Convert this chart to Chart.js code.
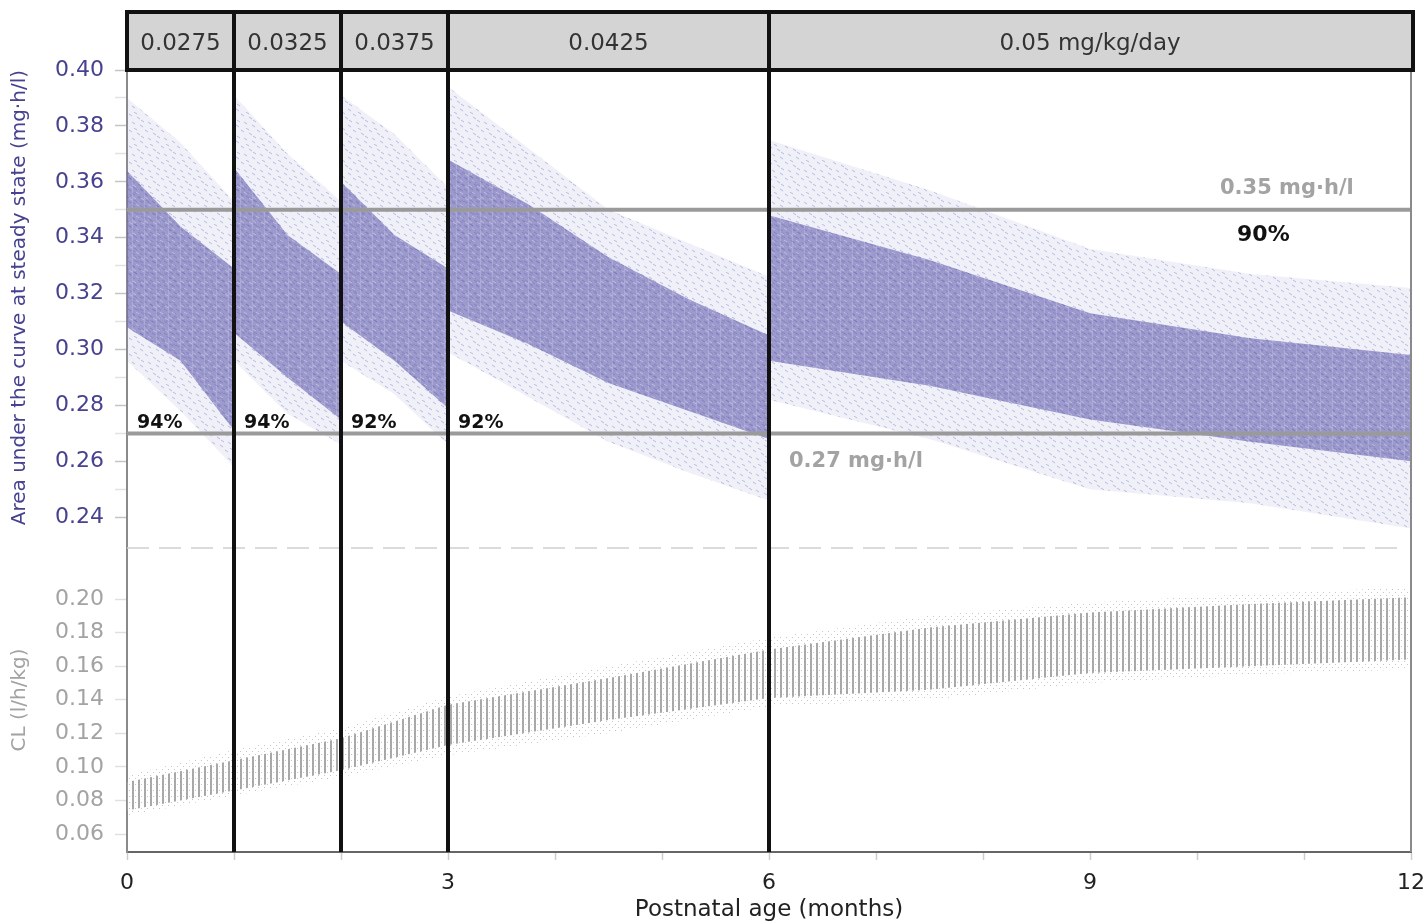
<!DOCTYPE html>
<html>
<head>
<meta charset="utf-8">
<script src="https://cdn.jsdelivr.net/npm/chart.js@4.4.1/dist/chart.umd.min.js"></script>
<style>
  html, body { margin: 0; padding: 0; background: #fff; }
  #wrap { width: 1427px; height: 924px; }
</style>
</head>
<body>
<div id="wrap"><canvas id="chart" width="1427" height="924"></canvas></div>
<script>
// Postnatal age (months) where the simulated AUC spread was read.
// Ages repeat at the dose steps so the band jumps at 1, 2, 3 and 6 months.
const aucAge       = [0,     0.5,   1,     1,     1.5,   2,     2,     2.5,   3,     3,     3.75,  4.5,   5.25,  6,     6,     7.5,   9,     10.5,  12];
const aucOuterHigh = [0.390, 0.374, 0.353, 0.391, 0.370, 0.353, 0.391, 0.377, 0.358, 0.394, 0.372, 0.350, 0.338, 0.326, 0.375, 0.357, 0.336, 0.327, 0.322];
const aucInnerHigh = [0.364, 0.344, 0.329, 0.365, 0.341, 0.327, 0.360, 0.341, 0.329, 0.368, 0.352, 0.333, 0.318, 0.305, 0.348, 0.332, 0.313, 0.304, 0.298];
const aucInnerLow  = [0.308, 0.296, 0.271, 0.306, 0.290, 0.275, 0.310, 0.296, 0.279, 0.314, 0.302, 0.288, 0.278, 0.268, 0.296, 0.287, 0.275, 0.267, 0.260];
const aucOuterLow  = [0.296, 0.278, 0.258, 0.296, 0.277, 0.266, 0.296, 0.284, 0.266, 0.299, 0.283, 0.267, 0.256, 0.246, 0.282, 0.268, 0.250, 0.245, 0.236];

// Clearance per kg at the same ages (no jumps, dose does not change CL).
const clAge       = [0,     1,     2,     3,     4.5,   6,     7.5,   9,     10.5,  12];
const clOuterHigh = [0.095, 0.110, 0.123, 0.142, 0.160, 0.177, 0.190, 0.198, 0.203, 0.207];
const clHigh      = [0.091, 0.104, 0.117, 0.137, 0.153, 0.170, 0.183, 0.192, 0.197, 0.201];
const clLow       = [0.074, 0.086, 0.098, 0.113, 0.128, 0.141, 0.146, 0.156, 0.160, 0.164];
const clOuterLow  = [0.071, 0.083, 0.094, 0.107, 0.120, 0.136, 0.140, 0.150, 0.155, 0.158];

// Dosing periods and the share of patients inside the target window.
const doseEdges  = [0, 1, 2, 3, 6, 12];
const doseLabels = ['0.0275', '0.0325', '0.0375', '0.0425', '0.05 mg/kg/day'];
const coverage   = ['94%', '94%', '92%', '92%', '90%'];
const targetHigh = 0.35;
const targetLow  = 0.27;

// Axis ticks
const ageTicks  = [0, 1, 2, 3, 4, 5, 6, 7, 8, 9, 10, 11, 12];
const ageLabels = [0, 3, 6, 9, 12];
const aucTicks  = [0.24, 0.25, 0.26, 0.27, 0.28, 0.29, 0.30, 0.31, 0.32, 0.33, 0.34, 0.35, 0.36, 0.37, 0.38, 0.39, 0.40];
const aucLabels = [0.24, 0.26, 0.28, 0.30, 0.32, 0.34, 0.36, 0.38, 0.40];
const clTicks   = [0.06, 0.08, 0.10, 0.12, 0.14, 0.16, 0.18, 0.20];

const FONT = 'DejaVu Sans';
const PURPLE = '#46428f';
const GREY_TEXT = '#a3a3a3';

Chart.defaults.font.family = FONT;

function makePattern(w, h, paint) {
  const c = document.createElement('canvas');
  c.width = w;
  c.height = h;
  paint(c.getContext('2d'));
  return c.getContext('2d').createPattern(c, 'repeat');
}

function dashes(g, color, list) {
  g.strokeStyle = color;
  g.lineWidth = 1;
  list.forEach(([x, y]) => {
    g.beginPath();
    g.moveTo(x, y);
    g.lineTo(x + 3, y + 2);
    g.stroke();
  });
}

// sparse light scatter around the core
const outerFill = makePattern(16, 16, g => {
  g.fillStyle = 'rgba(150,146,205,0.14)';
  g.fillRect(0, 0, 16, 16);
  dashes(g, 'rgba(120,116,190,0.45)', [[1, 2], [9, 5], [4, 10], [12, 13], [6, 0], [13, 8]]);
});

// dense core of the scatter, with faint vertical seams
const innerFill = makePattern(12, 12, g => {
  g.fillStyle = 'rgba(112,108,182,0.66)';
  g.fillRect(0, 0, 12, 12);
  dashes(g, 'rgba(80,76,160,0.35)', [[0, 1], [6, 4], [2, 8], [8, 9]]);
  dashes(g, 'rgba(255,255,255,0.35)', [[4, 0], [9, 6], [1, 5]]);
  g.fillStyle = 'rgba(255,255,255,0.18)';
  g.fillRect(0, 0, 1, 12);
});

// clearance: one grey whisker per simulated age
const clFill = makePattern(6, 4, g => {
  g.fillStyle = 'rgba(160,160,160,0.9)';
  g.fillRect(0, 0, 2, 4);
});

const clDots = makePattern(6, 6, g => {
  g.fillStyle = 'rgba(175,175,175,0.7)';
  g.fillRect(0, 1, 1, 1);
  g.fillRect(3, 4, 1, 1);
});

function points(ages, values) {
  return ages.map((x, i) => ({ x, y: values[i] }));
}

function band(label, ages, values, axis, fill, bg, order) {
  return {
    label,
    data: points(ages, values),
    yAxisID: axis,
    fill,
    backgroundColor: bg,
    borderWidth: 0,
    pointRadius: 0,
    tension: 0,
    order
  };
}

const onTick = (list, v) => list.some(t => Math.abs(t - v) < 1e-6);

const overlay = {
  id: 'overlay',
  afterDatasetsDraw(chart) {
    const { ctx, chartArea: a, scales } = chart;
    const x = scales.x, y = scales.yAuc;
    const headTop = 12, headBottom = 70;
    ctx.save();

    // target window
    ctx.strokeStyle = '#9a9a9a';
    ctx.lineWidth = 4;
    [targetHigh, targetLow].forEach(v => {
      const py = y.getPixelForValue(v);
      ctx.beginPath();
      ctx.moveTo(a.left, py);
      ctx.lineTo(a.right, py);
      ctx.stroke();
    });

    // split between the two panels
    ctx.strokeStyle = '#cfcfcf';
    ctx.lineWidth = 1.5;
    ctx.setLineDash([22, 10]);
    ctx.beginPath();
    ctx.moveTo(a.left, y.bottom);
    ctx.lineTo(a.right - 6, y.bottom);
    ctx.stroke();
    ctx.setLineDash([]);

    // right frame
    ctx.strokeStyle = '#8a8a8a';
    ctx.lineWidth = 2;
    ctx.beginPath();
    ctx.moveTo(a.right, a.top);
    ctx.lineTo(a.right, a.bottom);
    ctx.stroke();

    // dose header
    const left = x.getPixelForValue(0), right = x.getPixelForValue(12) + 2;
    ctx.fillStyle = '#d4d4d4';
    ctx.fillRect(left, headTop, right - left, headBottom - headTop);
    ctx.strokeStyle = '#111';
    ctx.lineWidth = 4;
    ctx.strokeRect(left, headTop, right - left, headBottom - headTop);

    // dose changes
    ctx.lineWidth = 4;
    doseEdges.slice(1, -1).forEach(m => {
      const px = x.getPixelForValue(m);
      ctx.beginPath();
      ctx.moveTo(px, headTop);
      ctx.lineTo(px, a.bottom);
      ctx.stroke();
    });

    ctx.fillStyle = '#333';
    ctx.font = '23px ' + FONT;
    ctx.textAlign = 'center';
    ctx.textBaseline = 'middle';
    doseLabels.forEach((t, i) => {
      const cx = (x.getPixelForValue(doseEdges[i]) + x.getPixelForValue(doseEdges[i + 1])) / 2;
      ctx.fillText(t, cx, (headTop + headBottom) / 2 + 3);
    });

    // coverage of the target window per dose period
    ctx.fillStyle = '#111';
    ctx.font = 'bold 19px ' + FONT;
    ctx.textAlign = 'left';
    ctx.textBaseline = 'alphabetic';
    coverage.slice(0, 4).forEach((t, i) => {
      ctx.fillText(t, x.getPixelForValue(doseEdges[i]) + 10, y.getPixelForValue(targetLow) - 5);
    });
    ctx.font = 'bold 22px ' + FONT;
    ctx.textAlign = 'center';
    ctx.textBaseline = 'middle';
    ctx.fillText(coverage[4], x.getPixelForValue(10.62), y.getPixelForValue(0.341));

    ctx.fillStyle = GREY_TEXT;
    ctx.font = 'bold 21px ' + FONT;
    ctx.fillText('0.35 mg·h/l', x.getPixelForValue(10.84), y.getPixelForValue(0.3575));
    ctx.textAlign = 'left';
    ctx.fillText('0.27 mg·h/l', x.getPixelForValue(6) + 20, y.getPixelForValue(0.26));

    ctx.restore();
  }
};

new Chart(document.getElementById('chart'), {
  type: 'line',
  data: {
    datasets: [
      band('AUC 2.5-97.5%', aucAge, aucOuterHigh, 'yAuc', '+3', outerFill, 3),
      band('AUC 25-75%', aucAge, aucInnerHigh, 'yAuc', '+1', innerFill, 2),
      band('AUC 25%', aucAge, aucInnerLow, 'yAuc', false, 'transparent', 2),
      band('AUC 2.5%', aucAge, aucOuterLow, 'yAuc', false, 'transparent', 3),
      band('CL outliers', clAge, clOuterHigh, 'yCl', '+3', clDots, 3),
      band('CL', clAge, clHigh, 'yCl', '+1', clFill, 2),
      band('CL low', clAge, clLow, 'yCl', false, 'transparent', 2),
      band('CL outliers low', clAge, clOuterLow, 'yCl', false, 'transparent', 3)
    ]
  },
  options: {
    responsive: false,
    animation: false,
    devicePixelRatio: 1,
    layout: { padding: { top: 70, right: 16, bottom: 0, left: 0 } },
    plugins: {
      legend: { display: false },
      tooltip: { enabled: false }
    },
    scales: {
      x: {
        type: 'linear',
        min: 0,
        max: 12,
        afterBuildTicks: s => { s.ticks = ageTicks.map(v => ({ value: v })); },
        afterFit: s => { s.height = 72; s.paddingLeft = 0; s.paddingRight = 0; },
        ticks: {
          autoSkip: false,
          maxRotation: 0,
          padding: 10,
          color: '#222',
          font: { size: 22 },
          callback: v => (onTick(ageLabels, v) ? String(v) : '')
        },
        grid: { drawOnChartArea: false, tickLength: 8, tickColor: '#cccccc', tickWidth: 1.5 },
        border: { color: '#666', width: 2 },
        title: {
          display: true,
          text: 'Postnatal age (months)',
          color: '#222',
          font: { size: 23 },
          padding: { top: 0, bottom: 0 }
        }
      },
      // stacked panels: the axis listed first ends up at the bottom
      yCl: {
        type: 'linear',
        position: 'left',
        stack: 'panels',
        stackWeight: 304,
        min: 0.0493,
        max: 0.2304,
        afterBuildTicks: s => { s.ticks = clTicks.map(v => ({ value: v })); },
        afterFit: s => { s.width = 127; },
        ticks: {
          autoSkip: false,
          padding: 11,
          color: GREY_TEXT,
          font: { size: 22 },
          callback: v => v.toFixed(2)
        },
        grid: { drawOnChartArea: false, tickLength: 12, tickWidth: 1.5, tickColor: '#e0e0e0' },
        border: { color: '#8a8a8a', width: 2 },
        title: {
          display: true,
          text: 'CL (l/h/kg)',
          color: GREY_TEXT,
          font: { size: 20 },
          padding: { top: 8, bottom: 0 }
        }
      },
      yAuc: {
        type: 'linear',
        position: 'left',
        stack: 'panels',
        stackWeight: 478,
        min: 0.229,
        max: 0.40,
        afterBuildTicks: s => { s.ticks = aucTicks.map(v => ({ value: v })); },
        afterFit: s => { s.width = 127; },
        ticks: {
          autoSkip: false,
          padding: 11,
          color: PURPLE,
          font: { size: 22 },
          callback: v => (onTick(aucLabels, v) ? v.toFixed(2) : '')
        },
        grid: {
          drawOnChartArea: false,
          tickLength: 12,
          tickWidth: 1.5,
          tickColor: c => (onTick(aucLabels, c.tick.value) ? '#c4c4c4' : '#e2e2e2')
        },
        border: { color: '#8a8a8a', width: 2 },
        title: {
          display: true,
          text: 'Area under the curve at steady state (mg·h/l)',
          align: 'end',
          color: PURPLE,
          font: { size: 20 },
          padding: { top: 8, bottom: 0 }
        }
      }
    }
  },
  plugins: [overlay]
});
</script>
</body>
</html>
